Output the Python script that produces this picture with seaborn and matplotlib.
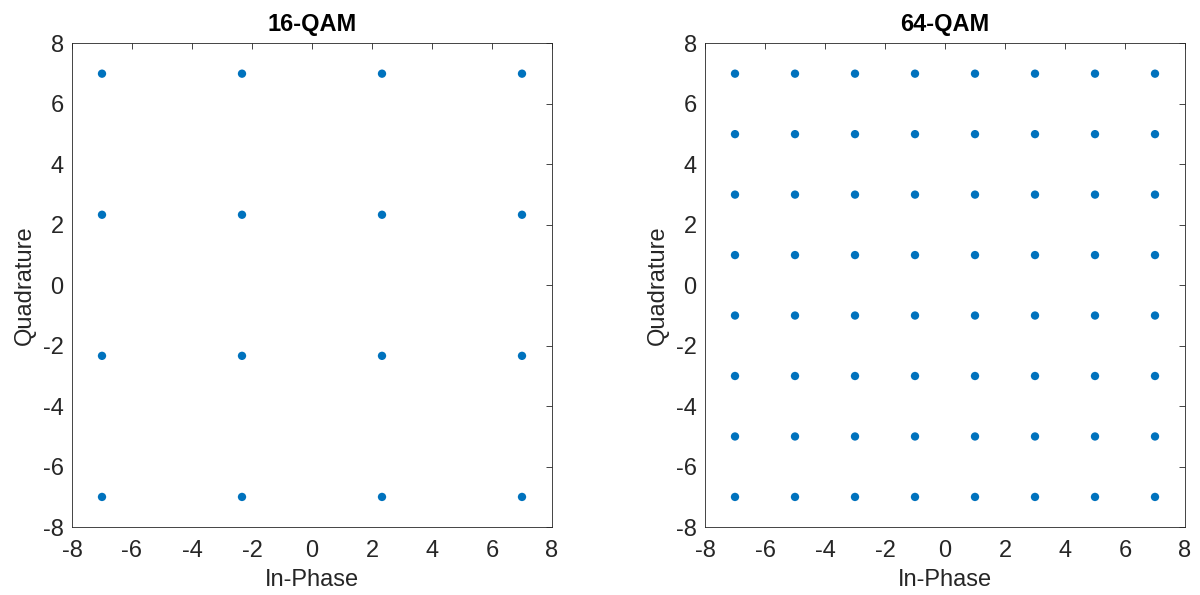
import numpy as np
import pandas as pd
import matplotlib
matplotlib.use("Agg")
import matplotlib.pyplot as plt
import seaborn as sns

# Data
levels_16 = [-7.0, -7.0/3, 7.0/3, 7.0]
levels_64 = [-7, -5, -3, -1, 1, 3, 5, 7]
titles = ["16-QAM", "64-QAM"]
ticks = [-8, -6, -4, -2, 0, 2, 4, 6, 8]

sns.set_theme(style="white")
plt.rcParams['font.family'] = ['Liberation Sans', 'DejaVu Sans']
plt.rcParams['axes.unicode_minus'] = False

def grid(levels):
    I, Q = np.meshgrid(levels, levels)
    return pd.DataFrame({"I": I.ravel(), "Q": Q.ravel()})

fig = plt.figure(figsize=(12, 5.95), dpi=100)
ax1 = fig.add_axes([0.06, 0.114, 0.40, 0.813])
ax2 = fig.add_axes([0.5875, 0.114, 0.40, 0.813])

edge = "#262626"
for ax, lv, title in zip([ax1, ax2], [levels_16, levels_64], titles):
    df = grid(lv)
    sns.scatterplot(data=df, x="I", y="Q", ax=ax, color="#0072BD", s=36,
                    edgecolor="none", linewidth=0)
    ax.set_xlim(-8, 8)
    ax.set_ylim(-8, 8)
    ax.set_xticks(ticks)
    ax.set_yticks(ticks)
    ax.set_xlabel("In-Phase", fontsize=17, color=edge, labelpad=5)
    ax.set_ylabel("Quadrature", fontsize=17, color=edge, labelpad=5)
    ax.set_title(title, fontsize=17, fontweight="bold", color="black", pad=9)
    ax.tick_params(direction="in", length=4, width=0.6, colors=edge,
                   labelsize=17, top=True, right=True, pad=6)
    ax.tick_params(axis="x", pad=9)
    for sp in ax.spines.values():
        sp.set_visible(True)
        sp.set_color(edge)
        sp.set_linewidth(0.6)

fig.savefig("out.png", dpi=100, facecolor="white")
